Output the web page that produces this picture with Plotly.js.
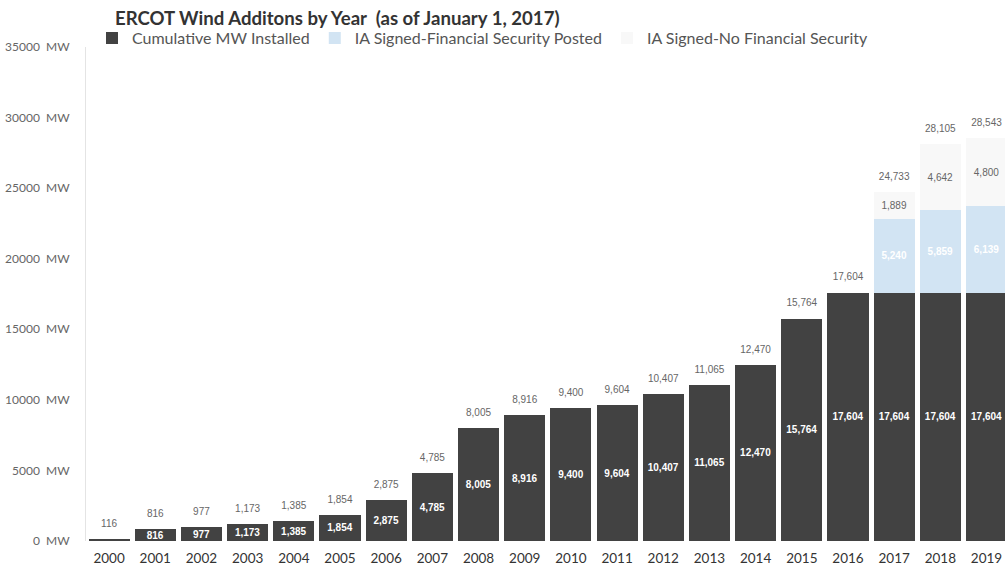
<!DOCTYPE html>
<html>
<head>
<meta charset="utf-8">
<script src="https://cdn.plot.ly/plotly-3.0.1.min.js"></script>
<style>html,body{margin:0;padding:0;background:#fff}#chart{width:1005px;height:571px}</style>
</head>
<body>
<div id="chart"></div>
<script>
var years = ['2000','2001','2002','2003','2004','2005','2006','2007','2008','2009','2010','2011','2012','2013','2014','2015','2016','2017','2018','2019'];
var installed = [116,816,977,1173,1385,1854,2875,4785,8005,8916,9400,9604,10407,11065,12470,15764,17604,17604,17604,17604];
var financialPosted = [0,0,0,0,0,0,0,0,0,0,0,0,0,0,0,0,0,5240,5859,6139];
var noFinancial = [0,0,0,0,0,0,0,0,0,0,0,0,0,0,0,0,0,1889,4642,4800];
var totals = [116,816,977,1173,1385,1854,2875,4785,8005,8916,9400,9604,10407,11065,12470,15764,17604,24733,28105,28543];

function fmt(v){ return v.toLocaleString('en-US'); }

var insideInstalled = installed.map(function(v,i){ return i===0 ? '' : '<b>' + fmt(v) + '</b>'; });
var insideFS = financialPosted.map(function(v){ return v ? '<b>' + fmt(v) + '</b>' : ''; });
var insideNoFS = noFinancial.map(function(v){ return v ? fmt(v) : ''; });

var labelFont = {family:'Liberation Sans, Arial, sans-serif', size:10, color:'#ffffff'};

var traces = [
  {type:'bar', name:'Cumulative MW Installed', x:years, y:installed,
   marker:{color:'#424242'}, text:insideInstalled, textposition:'inside',
   insidetextanchor:'middle', constraintext:'none', textfont:labelFont,
   hoverinfo:'skip', textangle:0},
  {type:'bar', name:'IA Signed-Financial Security Posted', x:years, y:financialPosted,
   marker:{color:'#d2e4f3'}, text:insideFS, textposition:'inside',
   insidetextanchor:'middle', constraintext:'none', textfont:labelFont,
   hoverinfo:'skip', textangle:0},
  {type:'bar', name:'IA Signed-No Financial Security', x:years, y:noFinancial,
   marker:{color:'#f8f8f8'}, text:insideNoFS, textposition:'inside',
   insidetextanchor:'middle', constraintext:'none',
   textfont:{family:'Liberation Sans, Arial, sans-serif', size:10, color:'#666'},
   hoverinfo:'skip', textangle:0},
  {type:'scatter', mode:'markers+text', x:years, y:totals, text:totals.map(fmt),
   marker:{size:14, color:'rgba(0,0,0,0)'},
   textposition:'top center', showlegend:false, hoverinfo:'skip',
   textfont:{family:'Liberation Sans, Arial, sans-serif', size:10, color:'#666'}}
];

var layout = {
  width:1005, height:571,
  margin:{l:86, r:0, t:47, b:30},
  paper_bgcolor:'#ffffff', plot_bgcolor:'#ffffff',
  barmode:'stack', bargap:0.11,
  showlegend:true,
  title:{text:'<b>ERCOT Wind Additons by Year  (as of January 1, 2017)</b>',
    x:0.0316, xanchor:'left', xref:'paper', y:0.967, yanchor:'middle',
    font:{family:'Lato, Open Sans, sans-serif', size:18.6, color:'#333'}},
  legend:{orientation:'h', x:0.0065, xanchor:'left', y:1.018, yanchor:'middle',
    traceorder:'normal', itemwidth:30, bgcolor:'rgba(0,0,0,0)',
    font:{family:'Lato, Open Sans, sans-serif', size:16, color:'#555'}},
  xaxis:{type:'category', range:[-0.5,19.4], showgrid:false, zeroline:false,
    showline:false, ticks:'outside', ticklen:5, tickcolor:'rgba(0,0,0,0)',
    tickfont:{family:'Lato, Open Sans, sans-serif', size:13.5, color:'#333'}},
  yaxis:{range:[0,35000], dtick:5000, tickformat:'d', ticksuffix:'\u00a0 MW',
    showgrid:false, zeroline:false, showline:true, linecolor:'#e4e4e4', linewidth:1,
    ticks:'outside', ticklen:13, tickcolor:'rgba(0,0,0,0)',
    tickfont:{family:'Lato, Open Sans, sans-serif', size:12, color:'#666'}}
};

Plotly.newPlot('chart', traces, layout, {displayModeBar:false, staticPlot:true});
</script>
</body>
</html>
